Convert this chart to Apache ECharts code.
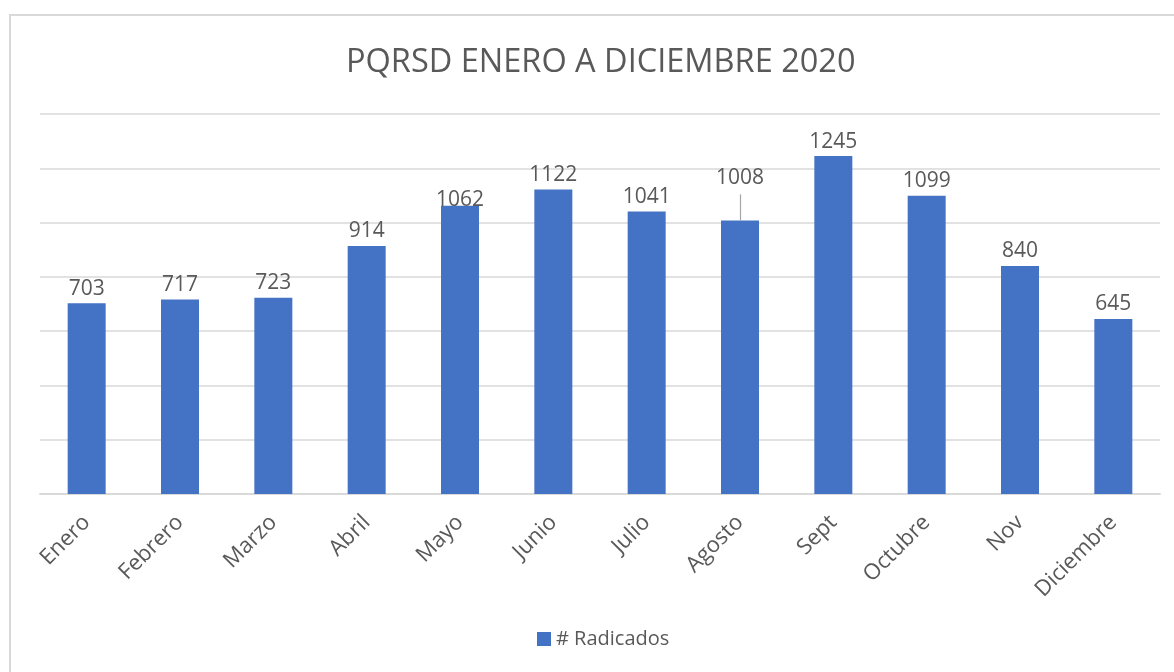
<!DOCTYPE html>
<html style="height: 100%">

<head>
    <meta charset="utf-8">
    <title>PQRSD Enero a Diciembre 2020</title>
    <script src="https://cdn.jsdelivr.net/npm/echarts@6/dist/echarts.min.js"></script>
</head>

<body style="height: 100%; margin: 0; background: #fff">
    <div id="container" style="width: 1174px; height: 672px"></div>
    <script type="text/javascript">

        // months on the x axis
        const months = ['Enero', 'Febrero', 'Marzo', 'Abril', 'Mayo', 'Junio',
            'Julio', 'Agosto', 'Sept', 'Octubre', 'Nov', 'Diciembre'];
        // # radicados per month
        const radicados = [703, 717, 723, 914, 1062, 1122, 1041, 1008, 1245, 1099, 840, 645];
        const seriesName = '# Radicados';

        const textColor = '#595959';
        const font = 'Open Sans';

        // a couple of labels sit differently in the original
        let barData = radicados.map((v, i) => {
            if (months[i] === 'Agosto') return { value: v, label: { offset: [0, -28] } };
            if (months[i] === 'Mayo') return { value: v, label: { offset: [0, 9] } };
            return v;
        });

        let dom = document.getElementById('container');
        let chart = echarts.init(dom, null, { renderer: 'canvas' });
        chart.setOption({
            animation: false,
            backgroundColor: '#fff',
            title: {
                text: 'PQRSD ENERO A DICIEMBRE 2020',
                left: 341,
                top: 41,
                textStyle: { color: textColor, fontFamily: font, fontSize: 32.5, fontWeight: 'normal' }
            },
            legend: {
                data: [seriesName],
                left: 532,
                top: 624,
                icon: 'rect',
                itemWidth: 14,
                itemHeight: 14,
                itemGap: 6,
                textStyle: { color: textColor, fontFamily: font, fontSize: 20 }
            },
            grid: { left: 40, right: 14, top: 114, bottom: 178 },
            xAxis: {
                type: 'category',
                data: months,
                axisLine: { lineStyle: { color: '#d9d9d9', width: 2 } },
                axisTick: { show: false },
                axisLabel: {
                    rotate: 45,
                    margin: 25,
                    color: textColor,
                    fontFamily: font,
                    fontSize: 22,
                    interval: 0
                }
            },
            yAxis: {
                type: 'value',
                min: 0,
                max: 1400,
                interval: 200,
                axisLabel: { show: false },
                axisLine: { show: false },
                axisTick: { show: false },
                splitLine: { lineStyle: { color: '#d9d9d9', width: 1.5 } }
            },
            series: [{
                name: seriesName,
                type: 'bar',
                data: barData,
                barWidth: 38,
                itemStyle: { color: '#4472C4' },
                label: {
                    show: true,
                    position: 'top',
                    distance: 4,
                    color: textColor,
                    fontFamily: font,
                    fontSize: 21
                },
                markLine: {
                    silent: true,
                    symbol: 'none',
                    label: { show: false },
                    lineStyle: { color: '#a6a6a6', type: 'solid', width: 1.2 },
                    data: [[{ coord: ['Agosto', 1008] }, { coord: ['Agosto', 1104] }]]
                }
            }],
            graphic: [{
                type: 'rect',
                shape: { x: 10, y: 15, width: 1200, height: 700 },
                style: { fill: 'none', stroke: '#d9d9d9', lineWidth: 2 },
                silent: true
            }]
        });

    </script>
</body>

</html>
